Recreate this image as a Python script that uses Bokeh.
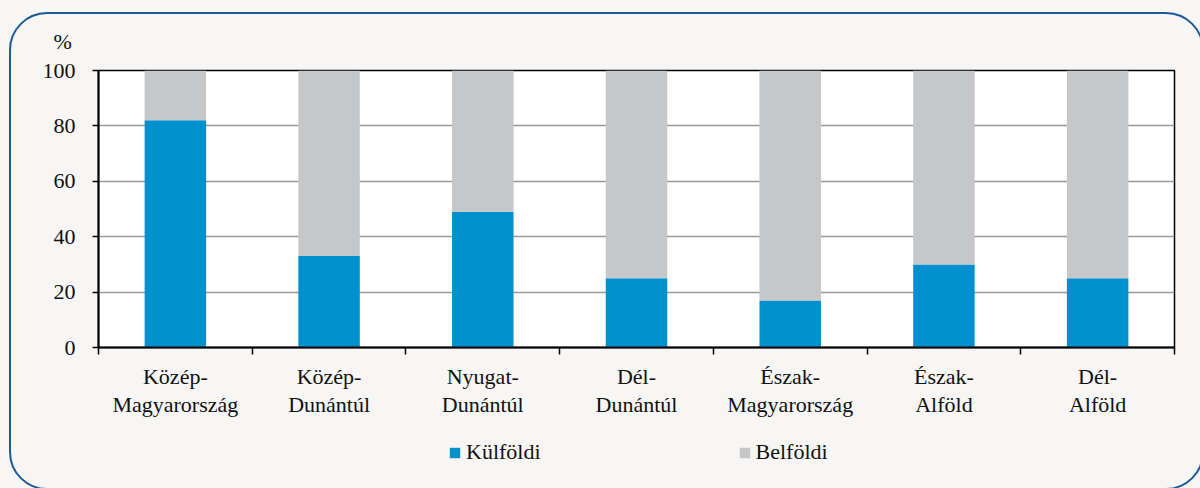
from bokeh.plotting import figure
from bokeh.layouts import column
from bokeh.models import (Range1d, FixedTicker, Legend, LegendItem, ColumnDataSource,
                          LinearAxis)
from bokeh.embed import file_html
from bokeh.resources import INLINE

# ---- data ----
categories = ["Közép-\nMagyarország", "Közép-\nDunántúl", "Nyugat-\nDunántúl",
              "Dél-\nDunántúl", "Észak-\nMagyarország", "Észak-\nAlföld", "Dél-\nAlföld"]
kulfoldi = [82, 33, 49, 25, 17, 30, 25]
belfoldi = [18, 67, 51, 75, 83, 70, 75]
y_ticks = [0, 20, 40, 60, 80, 100]
series_names = ["Külföldi", "Belföldi"]
unit_label = "%"

BLUE = "#0090cd"
GRAY = "#c6c7c9"
BG = "#f7f6f4"
FONT = "Liberation Serif"
FS = "22px"
TXT = "#111111"

xs = [i + 0.5 for i in range(len(categories))]
line1 = [c.split("\n")[0] for c in categories]
line2 = [c.split("\n")[1] for c in categories]
source = ColumnDataSource(dict(x=xs, k=kulfoldi, b=belfoldi))

p = figure(frame_width=1076, frame_height=277, x_range=Range1d(0, len(categories)),
           y_range=Range1d(0, 100), output_backend="svg", toolbar_location=None,
           min_border_left=98, min_border_right=26, min_border_top=70,
           min_border_bottom=80, title=unit_label)
p.border_fill_color = BG
p.background_fill_color = "white"
p.outline_line_color = "black"
p.outline_line_width = 1.5

# title used as the "%" unit label
p.title.align = "left"
p.title.offset = -45
p.title.standoff = 33
p.title.text_font = FONT
p.title.text_font_size = FS
p.title.text_font_style = "normal"
p.title.text_color = TXT

rs = p.vbar_stack(["k", "b"], x="x", width=0.4, color=[BLUE, GRAY],
                  line_color=None, source=source)

# grid
p.xgrid.visible = False
p.ygrid.ticker = FixedTicker(ticks=y_ticks)
p.ygrid.grid_line_color = "#999999"
p.ygrid.grid_line_width = 1.5

# y axis
ya = p.yaxis[0]
ya.ticker = FixedTicker(ticks=y_ticks)
ya.axis_line_color = "black"
ya.axis_line_width = 2
ya.major_tick_line_color = "black"
ya.major_tick_line_width = 1.5
ya.major_tick_out = 6
ya.major_tick_in = 0
ya.minor_tick_line_color = None
ya.major_label_standoff = 17
ya.major_label_text_font = FONT
ya.major_label_text_font_size = FS
ya.major_label_text_color = TXT

# x axis: first label line + boundary ticks
xa = p.xaxis[0]
xa.ticker = FixedTicker(ticks=xs, minor_ticks=list(range(len(categories) + 1)))
xa.major_label_overrides = {x: c for x, c in zip(xs, line1)}
xa.axis_line_color = "black"
xa.axis_line_width = 2
xa.major_tick_line_color = None
xa.major_tick_out = 0
xa.major_tick_in = 0
xa.minor_tick_line_color = "black"
xa.minor_tick_line_width = 1.5
xa.minor_tick_out = 7
xa.minor_tick_in = 0
xa.major_label_standoff = 9
xa.major_label_text_font = FONT
xa.major_label_text_font_size = FS
xa.major_label_text_color = TXT

# second label line
xa2 = LinearAxis(ticker=FixedTicker(ticks=xs, minor_ticks=[]),
                 major_label_overrides={x: c for x, c in zip(xs, line2)},
                 axis_line_color=None, major_tick_line_color=None,
                 minor_tick_line_color=None, major_tick_out=0, major_tick_in=0,
                 minor_tick_out=0, minor_tick_in=0, major_label_standoff=0,
                 major_label_text_font=FONT, major_label_text_font_size=FS,
                 major_label_text_color=TXT)
p.add_layout(xa2, "below")

# legend strip below the chart
lf = figure(width=1200, height=61, x_range=Range1d(0, 1), y_range=Range1d(0, 1),
            x_axis_type=None, y_axis_type=None, toolbar_location=None,
            output_backend="svg", min_border=0, min_border_left=0,
            min_border_right=0, min_border_top=0, min_border_bottom=0)
lf.outline_line_color = None
lf.background_fill_color = BG
lf.border_fill_color = BG
lf.grid.visible = False
# swatch renderers (one zero-height bar outside the visible range each)
swatches = [lf.vbar(x=[-1], top=[0], width=0, color=c, line_color=None)
            for c in (BLUE, GRAY)]
legend = Legend(items=[LegendItem(label=n, renderers=[r])
                       for n, r in zip(series_names, swatches)],
                orientation="horizontal", location=(350, 23), spacing=197,
                glyph_width=13, glyph_height=13, label_standoff=5,
                border_line_color=None, background_fill_alpha=0,
                label_text_font=FONT, label_text_font_size=FS,
                label_text_color=TXT, padding=0, margin=0)
lf.add_layout(legend, "center")

layout = column(p, lf, spacing=0)

html = file_html(layout, INLINE)
frame_div = ('<div style="position:fixed;left:9px;top:12px;width:1191px;height:474px;'
             'border:2px solid #1d5a98;border-radius:38px;pointer-events:none;'
             'z-index:10"></div>')
html = html.replace("<head>", "<head><style>html,body{background:%s;overflow:hidden;}</style>" % BG, 1)
html = html.replace("</body>", frame_div + "</body>", 1)
open("out.html", "w").write(html)
